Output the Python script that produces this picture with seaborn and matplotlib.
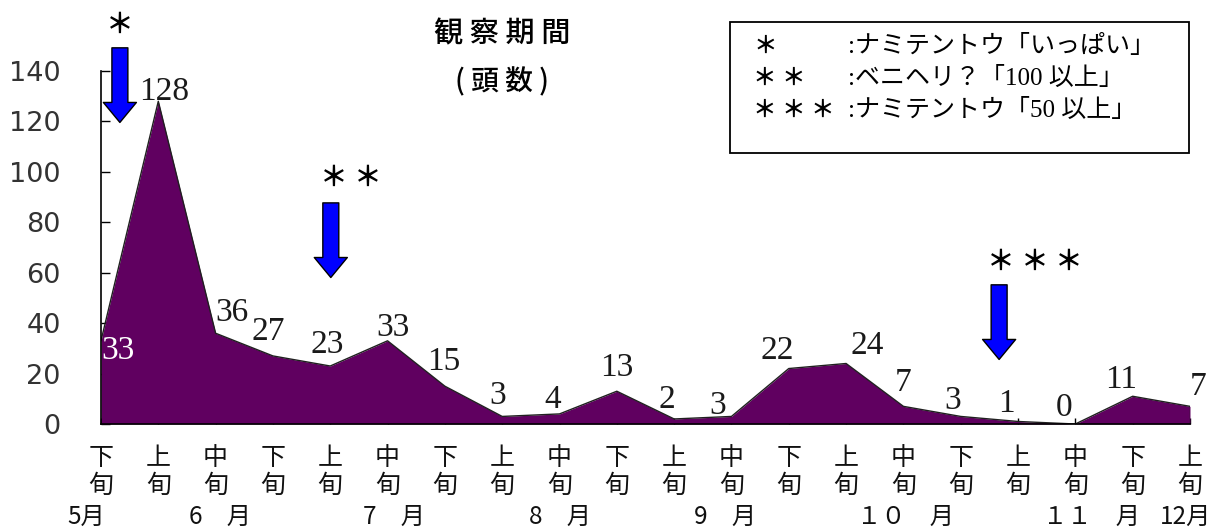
import numpy as np
import pandas as pd
import seaborn as sns
import matplotlib
matplotlib.use("Agg")
import matplotlib.pyplot as plt
from matplotlib.patches import FancyArrowPatch, Rectangle

# Ten-day periods (旬) from late May to early December
periods = ["下", "上", "中", "下", "上", "中", "下", "上", "中", "下",
           "上", "中", "下", "上", "中", "下", "上", "中", "下", "上"]
month_of_period = [0, 1, 1, 1, 2, 2, 2, 3, 3, 3, 4, 4, 4, 5, 5, 5, 6, 6, 6, 7]
month_names = ["5月", "6　月", "7　月", "8　月", "9　月", "１０　月", "１１　月", "12月"]
counts = [33, 128, 36, 27, 23, 33, 15, 3, 4, 13, 2, 3, 22, 24, 7, 3, 1, 0, 11, 7]

# Observation notes: marker and legend text
note_marks = ["＊", "＊ ＊", "＊ ＊ ＊"]
note_texts = [":ナミテントウ「いっぱい」", ":ベニヘリ？「100 以上」", ":ナミテントウ「50 以上」"]

title_lines = ["観 察 期 間", "( 頭 数 )"]

# Label nudges in pixels (dx, dy) relative to each point
label_nudge = [(17, -10), (6, 10), (16, 20), (-5, 24), (-3, 21), (5, 13), (-1, 24),
               (-5, 21), (-7, 14), (0, 23), (-7, 19), (-14, 11), (-12, 18), (21, 18),
               (0, 24), (-8, 16), (-12, 18), (-11, 16), (-12, 17), (8, 20)]
month_nudge = [-0.26, 0.08, 0.11, 0.01, -0.11, 0.03, 0.28, -0.08]

sns.set_theme(style="white")
plt.rcParams["font.family"] = ["Noto Sans CJK JP", "DejaVu Sans"]

PX = 0.72  # points per pixel at 100 dpi
fig = plt.figure(figsize=(12.21, 5.30), dpi=100)
ax = fig.add_axes([0.0827, 0.2, 0.8919, 0.666])

df = pd.DataFrame({"idx": np.arange(len(counts)), "count": counts})
fill = "#600060"
ax.fill_between(df["idx"], df["count"], color=fill, lw=0, zorder=1)
sns.lineplot(data=df, x="idx", y="count", color="#202020", lw=1.0, ax=ax, zorder=2)
ax.plot([19, 19], [0, counts[-1]], color="#202020", lw=1.0, zorder=2)

ax.set_xlim(0, len(counts) - 1)
ax.set_ylim(0, 140)
ax.set_yticks(range(0, 141, 20))
ax.set_xticks(df["idx"])
ax.set_xticklabels([p + "\n旬" for p in periods])
ax.set_xlabel("")
ax.set_ylabel("")
sns.despine(ax=ax)
for side in ("left", "bottom"):
    ax.spines[side].set_color("black")
    ax.spines[side].set_linewidth(1.2)
ax.spines["left"].set_zorder(3)

ax.tick_params(axis="y", direction="in", length=6.5, width=1, color="black",
               pad=29, labelsize=19.5, labelcolor="#333333", left=True)
ax.tick_params(axis="x", direction="in", length=4, width=1, color="black",
               pad=15, labelsize=18, labelcolor="#111111", bottom=True)
for lbl in ax.get_yticklabels():
    lbl.set_fontfamily("DejaVu Sans")
for lbl in ax.get_xticklabels():
    lbl.set_linespacing(1.08)

# Month names under the period labels
for m, name in enumerate(month_names):
    members = [i for i, mm in enumerate(month_of_period) if mm == m]
    xc = np.mean(members) + month_nudge[m]
    ax.text(xc, -0.263, name, transform=ax.get_xaxis_transform(), ha="center",
            va="center", fontsize=17.5, color="#111111")

# Value labels
for i, v in enumerate(counts):
    dx, dy = label_nudge[i]
    ax.annotate(str(v), (i, v), xytext=(dx * PX, dy * PX), textcoords="offset points",
                ha="center", va="center", fontsize=24,
                family=["Liberation Serif", "DejaVu Serif"],
                color="white" if i == 0 else "#1a1a1a", zorder=4)

# Blue arrows marking the notes
arrow_x = [0.33, 4.01, 15.67]
arrow_top = [149.2, 87.7, 55.2]
arrow_len = 29.6
star_pos = [(0.33, 158.3), (4.36, 97.6), (16.3, 64.3)]
style = "simple,head_length=%.1f,head_width=%.1f,tail_width=%.1f" % (20 * PX, 33 * PX, 16 * PX)
for x, yt, (sx, sy), mark in zip(arrow_x, arrow_top, star_pos, note_marks):
    arr = FancyArrowPatch((x, yt), (x, yt - arrow_len), arrowstyle=style,
                          mutation_scale=1, shrinkA=0, shrinkB=0,
                          fc="#0000ff", ec="black", lw=1.0, clip_on=False, zorder=5)
    ax.add_patch(arr)
    ax.text(sx, sy, mark, ha="center", va="center", fontsize=20, color="black",
            fontweight="bold", clip_on=False)

# Title
fig.text(0.411, 0.9358, title_lines[0], ha="center", va="center", fontsize=21,
         color="black", fontweight="medium")
fig.text(0.411, 0.8453, title_lines[1], ha="center", va="center", fontsize=20,
         color="black", fontweight="medium")

# Notes box
box = Rectangle((730 / 1221, 1 - 153 / 530), (1189 - 730) / 1221, (153 - 22) / 530,
                transform=fig.transFigure, fc="white", ec="black", lw=1.3)
fig.patches.append(box)
for k, (mark, txt) in enumerate(zip(note_marks, note_texts)):
    yy = 1 - (46 + 32 * k) / 530
    fig.text(753 / 1221, yy, mark, ha="left", va="center", fontsize=17, color="black",
             fontweight="bold")
    fig.text(848 / 1221, yy, txt, ha="left", va="center", fontsize=18, color="black",
             family=["Liberation Serif", "Noto Sans CJK JP"])

fig.savefig("out.png", dpi=100)
